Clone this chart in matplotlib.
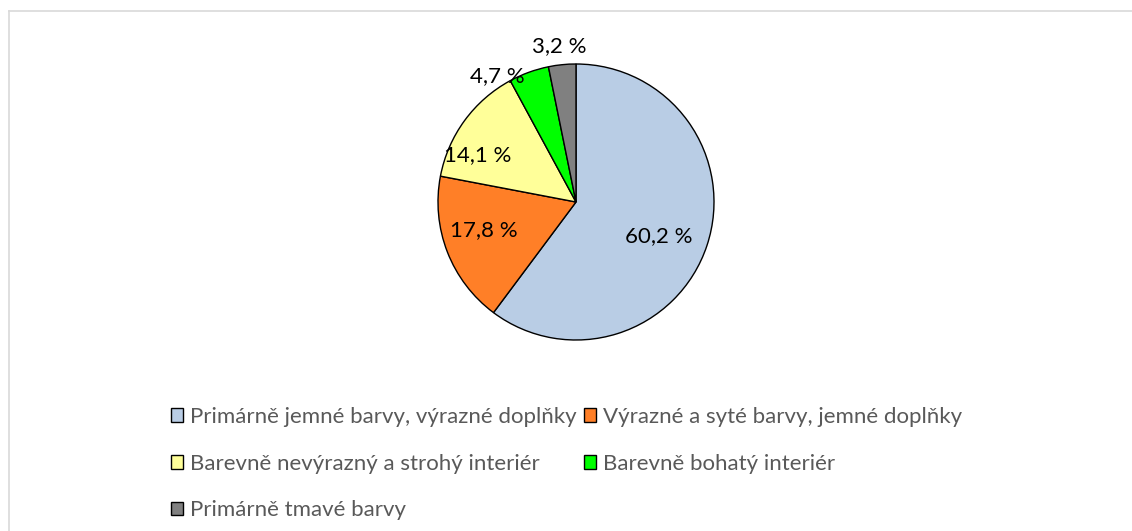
import matplotlib
matplotlib.use("Agg")
import matplotlib.pyplot as plt
from matplotlib.lines import Line2D

plt.rcParams['font.family'] = ['Lato', 'DejaVu Sans']

# data
categories = ["Primárně jemné barvy, výrazné doplňky",
              "Výrazné a syté barvy, jemné doplňky",
              "Barevně nevýrazný a strohý interiér",
              "Barevně bohatý interiér",
              "Primárně tmavé barvy"]
values = [60.2, 17.8, 14.1, 4.7, 3.2]
colors = ["#B9CDE5", "#FF7F27", "#FFFF99", "#00FF00", "#808080"]
# where each percentage label sits (pie radius = 1)
label_pos = [(0.60, -0.25), (-0.67, -0.20), (-0.71, 0.34), (-0.57, 0.91), (-0.12, 1.13)]

W, H = 1132, 531
fig = plt.figure(figsize=(W / 100, H / 100), dpi=100)

# pie centre (576, 202), radius 138 px
cx, cy, r = 576, 202, 138
ax = fig.add_axes([(cx - r) / W, 1 - (cy + r) / H, 2 * r / W, 2 * r / H])

wedges, texts, autotexts = ax.pie(
    values, colors=colors, startangle=90, counterclock=False,
    autopct=lambda p: f"{p:.1f} %".replace(".", ","),
    wedgeprops=dict(edgecolor="black", linewidth=1.0),
    textprops=dict(fontsize=16, color="black"))
for t, (x, y), v in zip(autotexts, label_pos, values):
    t.set_position((x, y))
    t.set_text(f"{v:.1f} %".replace(".", ","))
    t.set_ha("center")
    t.set_va("center")
ax.set_xlim(-1, 1)
ax.set_ylim(-1, 1)
ax.set_aspect("equal")
ax.axis("off")

# legend, row-major order like the original
order = [0, 2, 4, 1, 3]
leg = fig.legend([wedges[i] for i in order], [categories[i] for i in order],
                 ncol=2, loc="upper left", bbox_to_anchor=(171 / W, 1 - 407 / H),
                 frameon=False, fontsize=16, handlelength=0.55, handleheight=0.55,
                 handletextpad=0.32, columnspacing=0.32, labelspacing=1.2,
                 borderaxespad=0, borderpad=0)
for t in leg.get_texts():
    t.set_color("#595959")

# light frame (only top and left visible)
fig.add_artist(Line2D([9 / W, 9 / W], [0, 1 - 11 / H], color="#D9D9D9", lw=1.2))
fig.add_artist(Line2D([9 / W, 1], [1 - 11 / H, 1 - 11 / H], color="#D9D9D9", lw=1.2))

fig.savefig("out.png", dpi=100)
